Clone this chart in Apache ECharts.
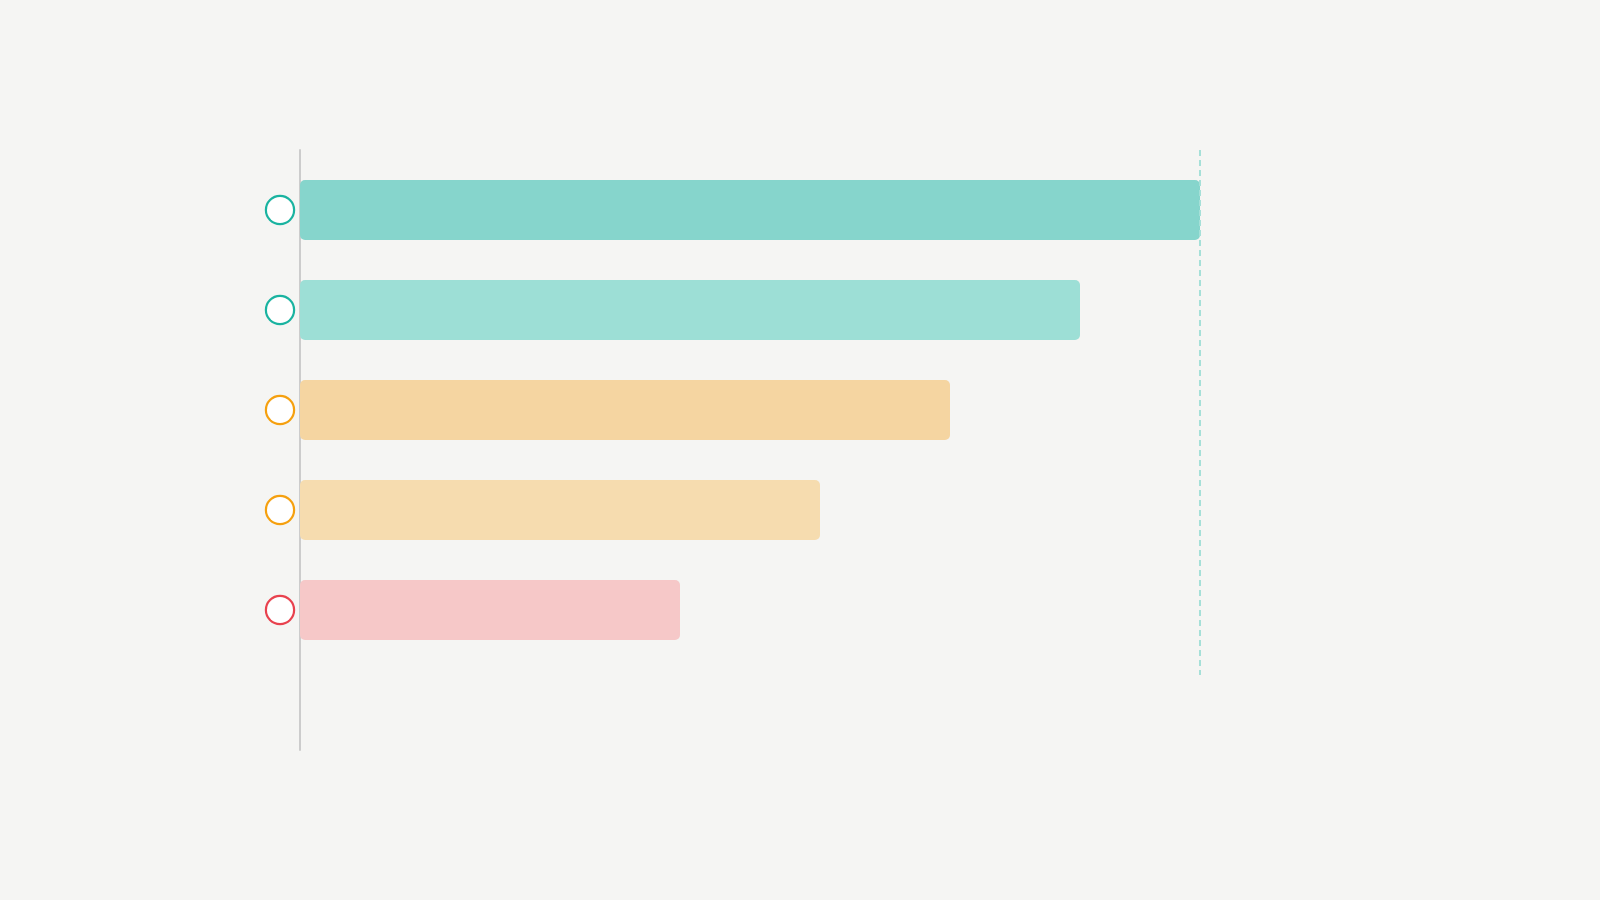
<!DOCTYPE html>
<html>
<head>
<meta charset="utf-8">
<script src="https://cdn.jsdelivr.net/npm/echarts@6/dist/echarts.min.js"></script>
<style>
html,body{margin:0;padding:0;background:#f5f5f3;}
#chart{width:1600px;height:900px;}
</style>
</head>
<body>
<div id="chart"></div>
<script>
// Data
const categories = ['A', 'B', 'C', 'D', 'E', ''];
const values = [90, 78, 65, 52, 38, null];
const barColors = ['#86d5cc', '#9ddfd6', '#f5d5a1', '#f6dcaf', '#f6c8c8'];
const markerColors = ['#1ab3a0', '#1ab3a0', '#f5a00f', '#f5a00f', '#e8424e'];
const targetLineSpan = [0, 5.25]; // vertical extent of the target reference line (in category units)

const rich = {};
markerColors.forEach((c, i) => {
  rich['m' + i] = {
    width: 26, height: 26, borderRadius: 15,
    backgroundColor: '#ffffff', borderColor: c, borderWidth: 2.2
  };
});

const maxVal = Math.max(...values.filter(v => v != null));

const chart = echarts.init(document.getElementById('chart'));
chart.setOption({
  backgroundColor: '#f5f5f3',
  animation: false,
  grid: { left: 300, right: 400, top: 150, bottom: 150 },
  xAxis: {
    type: 'value', min: 0, max: 'dataMax',
    show: false
  },
  yAxis: [{
    type: 'category', inverse: true, data: categories,
    axisLine: { show: true, lineStyle: { color: '#cccccc', width: 2 } },
    axisTick: { show: false },
    splitLine: { show: false },
    axisLabel: {
      margin: 7,
      padding: [20, 0, 0, 0],
      formatter: (v, i) => i < markerColors.length ? '{m' + i + '|}' : '',
      rich: rich
    }
  }, {
    type: 'value', inverse: true, min: 0, max: categories.length,
    show: false
  }],
  series: [
    {
      type: 'bar', barWidth: 20, barGap: '0%',
      data: categories.map(() => null), silent: true
    },
    {
      type: 'bar', barWidth: 60,
      data: values.map((v, i) => v == null ? null : ({
        value: v,
        itemStyle: { color: barColors[i], borderRadius: 5 }
      }))
    },
    {
      type: 'line', yAxisIndex: 1, silent: true,
      symbol: 'none',
      lineStyle: { color: '#a6e0d8', type: [6, 4], width: 2 },
      data: targetLineSpan.map(y => [maxVal, y])
    }
  ]
});
</script>
</body>
</html>
